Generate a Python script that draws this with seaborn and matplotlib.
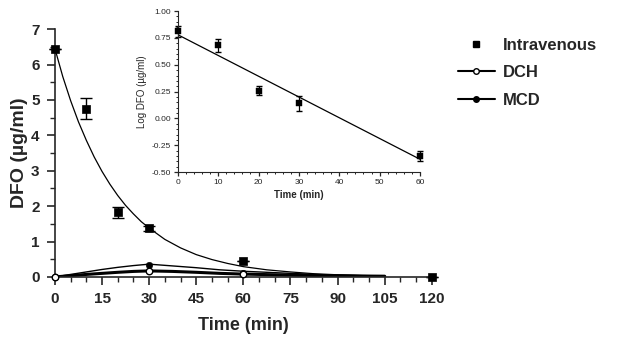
import numpy as np
import pandas as pd
import matplotlib
matplotlib.use("Agg")
import matplotlib.pyplot as plt
import seaborn as sns
from matplotlib.ticker import MultipleLocator
from matplotlib.lines import Line2D

# main plot: measured points
iv_time = [0, 10, 20, 30, 60, 120]
iv_conc = [6.45, 4.75, 1.82, 1.37, 0.45, 0.0]
iv_err = [0.0, 0.3, 0.15, 0.08, 0.0, 0.0]

dch_time = [0, 30, 60]
dch_conc = [0.0, 0.17, 0.08]
mcd_time = [0, 30, 60]
mcd_conc = [0.0, 0.35, 0.12]

# fitted curves
fit_time = [0, 2.5, 5, 7.5, 10, 12.5, 15, 17.5, 20, 22.5, 25, 27.5, 30, 35, 40,
            45, 50, 55, 60, 67.5, 75, 82.5, 90, 97.5, 105]
iv_fit = [6.45, 5.66, 4.98, 4.38, 3.86, 3.39, 2.98, 2.62, 2.3, 2.02, 1.78, 1.56,
          1.38, 1.06, 0.82, 0.63, 0.49, 0.38, 0.29, 0.2, 0.14, 0.09, 0.06, 0.04, 0.03]
curve_time = [0, 5, 10, 15, 20, 25, 30, 37.5, 45, 52.5, 60, 67.5, 75, 82.5, 90, 97.5, 105]
dch_fit = [0.0, 0.035, 0.07, 0.1, 0.13, 0.155, 0.17, 0.155, 0.13, 0.1, 0.08, 0.065,
           0.05, 0.04, 0.03, 0.025, 0.02]
mcd_fit = [0.0, 0.07, 0.14, 0.21, 0.27, 0.32, 0.36, 0.31, 0.26, 0.2, 0.16, 0.13,
           0.1, 0.07, 0.05, 0.035, 0.02]

# inset: log concentration
log_time = [0, 10, 20, 30, 60]
log_conc = [0.81, 0.68, 0.26, 0.14, -0.35]
log_err = [0.05, 0.06, 0.04, 0.07, 0.05]
log_fit_time = [0, 60]
log_fit = [0.78, -0.38]

sns.set_style("ticks")
plt.rcParams['font.family'] = ['Liberation Sans', 'DejaVu Sans']

fig = plt.figure(figsize=(6.24, 3.47), dpi=100)
ax = fig.add_axes([0.088, 0.202, 0.604, 0.714])

sns.lineplot(x=fit_time, y=iv_fit, ax=ax, color="black", lw=0.9)
sns.lineplot(x=curve_time, y=mcd_fit, ax=ax, color="black", lw=1.0)
sns.lineplot(x=curve_time, y=dch_fit, ax=ax, color="black", lw=2.2)
ax.errorbar(iv_time, iv_conc, yerr=iv_err, fmt="none", ecolor="black",
            elinewidth=1, capsize=4, clip_on=False)
sns.scatterplot(x=iv_time, y=iv_conc, ax=ax, marker="s", s=38, color="black",
                edgecolor="black", clip_on=False, zorder=5)
sns.scatterplot(x=mcd_time, y=mcd_conc, ax=ax, marker="o", s=22, color="black",
                edgecolor="black", clip_on=False, zorder=5)
sns.scatterplot(x=dch_time, y=dch_conc, ax=ax, marker="o", s=22, color="white",
                edgecolor="black", linewidth=1, clip_on=False, zorder=6)

ax.set_xlim(0, 120)
ax.set_ylim(0, 7)
ax.xaxis.set_major_locator(MultipleLocator(15))
ax.xaxis.set_minor_locator(MultipleLocator(5))
ax.yaxis.set_major_locator(MultipleLocator(1))
ax.yaxis.set_minor_locator(MultipleLocator(0.5))
ax.tick_params(which="major", length=6, width=1.2, labelsize=11, pad=5)
ax.tick_params(which="minor", length=3.5, width=1)
for lab in ax.get_xticklabels() + ax.get_yticklabels():
    lab.set_fontweight("bold")
sns.despine(ax=ax)
for s in ["left", "bottom"]:
    ax.spines[s].set_linewidth(1.2)
ax.set_xlabel("Time (min)", fontsize=13, fontweight="bold", labelpad=8)
ax.set_ylabel("DFO (\u00b5g/ml)", fontsize=14, fontweight="bold", labelpad=2)

handles = [
    Line2D([], [], ls="none", marker="s", color="black", markersize=5),
    Line2D([], [], color="black", lw=1.5, marker="o", markerfacecolor="white",
           markeredgecolor="black", markersize=4),
    Line2D([], [], color="black", lw=1.5, marker="o", markersize=4),
]
fig.legend(handles, ["Intravenous", "DCH", "MCD"], loc="upper left",
           bbox_to_anchor=(0.71, 0.935), frameon=False, handlelength=2.2,
           handletextpad=0.5, labelspacing=0.75,
           prop={"weight": "bold", "size": 12})

# inset
ins = fig.add_axes([0.285, 0.504, 0.388, 0.464])
sns.lineplot(x=log_fit_time, y=log_fit, ax=ins, color="black", lw=0.9)
ins.errorbar(log_time, log_conc, yerr=log_err, fmt="none", ecolor="black",
             elinewidth=0.9, capsize=2.5, clip_on=False)
sns.scatterplot(x=log_time, y=log_conc, ax=ins, marker="s", s=14, color="black",
                edgecolor="black", clip_on=False, zorder=5)
ins.set_xlim(0, 60)
ins.set_ylim(-0.5, 1.0)
ins.xaxis.set_major_locator(MultipleLocator(10))
ins.xaxis.set_minor_locator(MultipleLocator(2))
ins.yaxis.set_major_locator(MultipleLocator(0.25))
ins.yaxis.set_minor_locator(MultipleLocator(0.05))
ins.yaxis.set_major_formatter(matplotlib.ticker.FormatStrFormatter("%.2f"))
ins.tick_params(which="major", length=3, width=0.9, labelsize=6, pad=2)
ins.tick_params(which="minor", length=1.5, width=0.7)
ins.patch.set_alpha(0)
sns.despine(ax=ins)
ins.set_xlabel("Time (min)", fontsize=7, fontweight="bold", labelpad=3)
ins.set_ylabel("Log DFO (\u00b5g/ml)", fontsize=7, labelpad=3)

fig.savefig("out.png", dpi=100)
